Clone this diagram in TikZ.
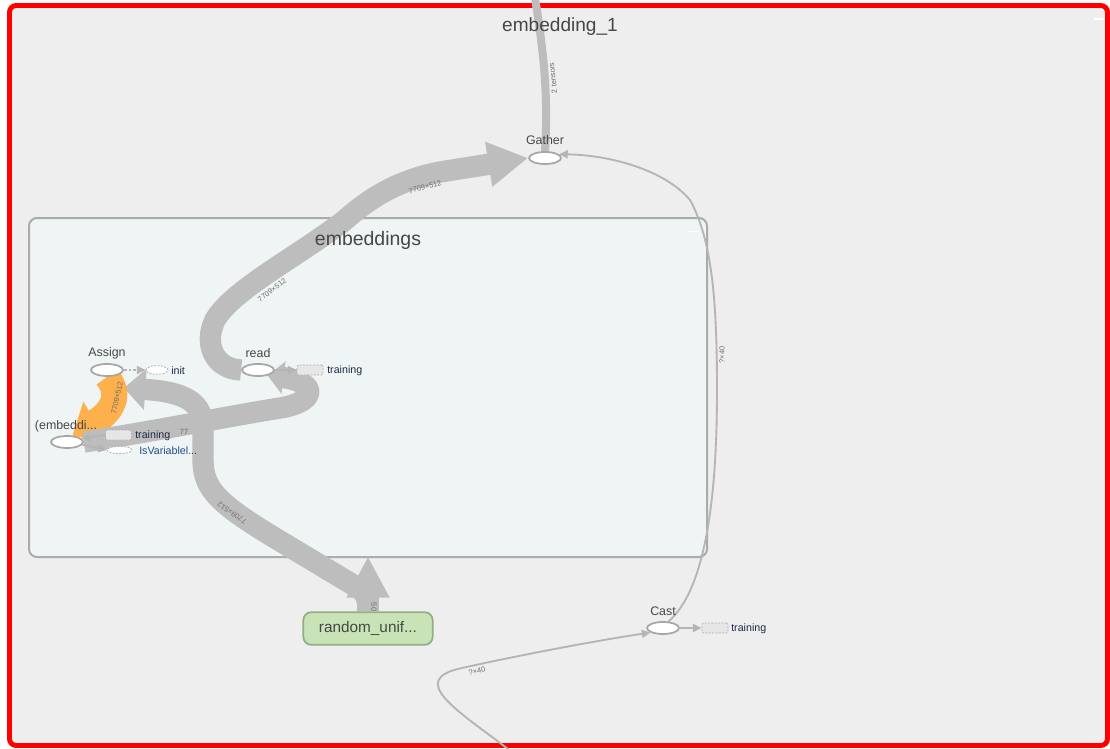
\documentclass[tikz,border=0pt]{standalone}
\usepackage{fontspec}
\setmainfont{Liberation Sans}
\usetikzlibrary{arrows.meta,shapes.geometric}
\definecolor{bg}{HTML}{EEEEEE}
\definecolor{boxfill}{HTML}{EFF5F4}
\definecolor{boxline}{HTML}{A9ACAB}
\definecolor{bandgray}{HTML}{BDBDBD}
\definecolor{orng}{HTML}{FDB04C}
\definecolor{txt}{HTML}{474747}
\definecolor{opline}{HTML}{A6A6A6}
\definecolor{dashline}{HTML}{B0B0B0}
\definecolor{dashfill}{HTML}{E6E6E6}
\definecolor{navy}{HTML}{1E2B46}
\definecolor{bluetxt}{HTML}{1F4E8C}
\definecolor{thingray}{HTML}{B5B5B5}
\definecolor{bandtxt}{HTML}{6E6E6E}
\definecolor{rufill}{HTML}{C8E3B6}
\definecolor{ruline}{HTML}{93AD86}
\pgfdeclarelayer{back}
\pgfdeclarelayer{edges}
\pgfsetlayers{back,edges,main}
\begin{document}
\begin{tikzpicture}[x=0.75pt,y=-0.75pt,
  op/.style={ellipse, draw=opline, fill=white, line width=1.3pt, minimum width=24pt, minimum height=9pt, inner sep=0pt},
  dashell/.style={ellipse, draw=dashline, dash pattern=on 1.5pt off 1pt, fill=white, line width=0.6pt, minimum width=17pt, minimum height=6.5pt, inner sep=0pt},
  dashrect/.style={rectangle, rounded corners=1pt, draw=dashline, dash pattern=on 1.5pt off 1pt, fill=dashfill, line width=0.6pt, minimum width=19.5pt, minimum height=7.5pt, inner sep=0pt},
  oplabel/.style={font=\fontsize{9.3}{10}\selectfont, text=txt, inner sep=0pt},
  smalllabel/.style={font=\fontsize{8}{9}\selectfont, text=navy, inner sep=0pt, anchor=west},
  bandlabel/.style={font=\fontsize{5.6}{6}\selectfont, text=bandtxt, inner sep=0pt},
  title/.style={font=\fontsize{14.3}{16}\selectfont, text=txt, inner sep=0pt},
  band/.style={draw=bandgray, line width=16pt, line join=round},
  thinedge/.style={draw=thingray, line width=1.4pt, -{Triangle[length=6.5pt,width=6pt]}}]
\useasboundingbox (0,0) rectangle (1110,749);

% ---------- nodes ----------
\node[op] (gather) at (545,158) {};
\node[op] (assign) at (107,370) {};
\node[op] (read) at (258,370) {};
\node[op] (var) at (67,442) {};
\node[op] (cast) at (663,628) {};
\node[dashell, minimum width=16.5pt] (init) at (157,370) {};
\node[dashrect] (readtr) at (310,370) {};
\node[dashrect] (vartr) at (118.5,435) {};
\node[dashell, minimum width=18.5pt, minimum height=5.5pt] (varis) at (119.5,450) {};
\node[dashrect] (casttr) at (715,628) {};
\node[rectangle, rounded corners=6pt, draw=ruline, fill=rufill, line width=1.3pt,
      minimum width=97pt, minimum height=24.5pt, inner sep=0pt,
      font=\fontsize{11.5}{12}\selectfont, text=txt] (runif) at (368,628.5) {random\_unif...};

\node[oplabel] (gatherL) at (545,140) {Gather};
\node[oplabel] (assignL) at (107,353) {Assign};
\node[oplabel] (readL) at (258,353) {read};
\node[oplabel] (varL) at (66,426) {(embeddi...};
\node[oplabel] (castL) at (663,611) {Cast};
\node[smalllabel] (initL) at (171,370.5) {init};
\node[smalllabel] (readtrL) at (327,370.5) {training};
\node[smalllabel] (vartrL) at (135,435.5) {training};
\node[smalllabel, text=bluetxt] (varisL) at (139,450.5) {IsVariablel...};
\node[smalllabel] (casttrL) at (731,628.5) {training};

\node[title] (t1) at (560,27) {embedding\_1};
\node[title, font=\fontsize{14.6}{16}\selectfont] (t2) at (368,240) {embeddings};

\coordinate (topin) at (535,-2);
\coordinate (botin) at (512,752);
\coordinate (atip) at (124,388);

% ---------- background ----------
\begin{pgfonlayer}{back}
\fill[white] (0,0) rectangle (1110,749);
\draw[draw=red, line width=3.7pt, fill=bg, rounded corners=5pt] (9.5,5.5) rectangle (1107.5,745.5);
\draw[white, line width=1.5pt] (1094,19) -- (1104,19);
\draw[draw=boxline, fill=boxfill, line width=1.5pt, rounded corners=6pt] (29,218) rectangle (707,557);
\draw[white, line width=1.3pt] (689,231.5) -- (698,231.5);
\end{pgfonlayer}

% ---------- edges ----------
\begin{pgfonlayer}{edges}
% read -> Gather
\draw[band, -{Triangle[length=30pt,width=32pt]}] (read.west) .. controls (215,369) and (203,345) .. (215,320)
   .. controls (232,290) and (300,255) .. (345,220) .. controls (372,196) and (400,180) .. (440,172) -- (gather.west);
% random_unif -> Assign
\draw[band, -{Triangle[length=31pt,width=30pt]}] (runif.north) -- ++(0,-55);
\draw[band, -{Triangle[length=16pt,width=30pt]}] (runif.north) .. controls (368,598) and (366,592) .. (355,586)
   -- (280,541) .. controls (220,505) and (203,490) .. (203,460) -- (203,428)
   .. controls (203,402) and (185,392) .. (atip);
% Assign -> variable (ref)
\draw[draw=orng, line width=19.5pt, -{Triangle[length=20pt,width=34pt]}] (assign.south)
   .. controls (122,395) and (112,412) .. (var.50);
% variable -> read
\draw[band, -{Triangle[length=12pt,width=24pt]}] (var.east) .. controls (150,432) and (230,416) .. (280,408)
   .. controls (318,402) and (318,382) .. (read.-30);
% top input
\draw[draw=bandgray, line width=6pt] (topin) .. controls (545,60) and (548,100) .. (gather.north);
% Cast -> Gather
\draw[thinedge] (cast.50) .. controls (705,590) and (717,500) .. (717,390)
   .. controls (717,300) and (712,240) .. (690,200) .. controls (665,170) and (610,155) .. (gather.15);
% bottom -> Cast
\draw[thinedge] (botin) .. controls (460,712) and (405,680) .. (462,668) .. controls (520,655) and (600,640) .. (cast.200);
% small edges
\draw[thinedge] (cast.east) -- (casttr.west);
\draw[thinedge] (read.east) -- (readtr.west);
\draw[thinedge, dash pattern=on 2pt off 1.5pt] (assign.east) -- (init.west);
\draw[thinedge] (vartr.west) -- (var.15);
\draw[thinedge] (var.-10) -- (varis.west);
\end{pgfonlayer}

% ---------- edge labels ----------
\node[bandlabel, rotate=96] (l1) at (553,78) {2 tensors};
\node[bandlabel, rotate=16] (l2) at (425,187) {7709×512};
\node[bandlabel, rotate=37] (l3) at (272,290) {7709×512};
\node[bandlabel, rotate=146] (l4) at (232,513) {7709×512};
\node[bandlabel, rotate=78] (l5) at (117,398) {7709×512};
\node[bandlabel] (l6) at (184,432) {77};
\node[bandlabel, rotate=-90] (l7) at (374,607) {50};
\node[bandlabel, rotate=90] (l8) at (722,355) {?×40};
\node[bandlabel, rotate=12] (l9) at (477,671) {?×40};
\end{tikzpicture}
\end{document}
